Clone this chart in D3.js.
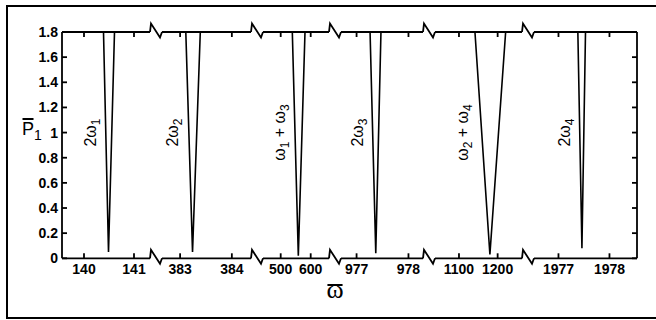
<!DOCTYPE html>
<html>
<head>
<meta charset="utf-8">
<script src="https://cdn.jsdelivr.net/npm/d3@7"></script>
<style>
  body { margin: 0; background: #fff; }
  svg { display: block; }
  .tick-label { font-family: "Liberation Sans", Arial, sans-serif; font-weight: bold; font-size: 14px; fill: #000; }
  .peak-label { font-family: "Liberation Sans", Arial, sans-serif; font-size: 16px; fill: #000; }
</style>
</head>
<body>
<div id="chart"></div>
<script>
// broken x axis: each segment has its own domain and ticks
const segDomains = [[139.56, 141.32], [382.65, 384.37], [441, 661], [976.7, 978.28], [1038, 1263], [1976.52, 1978.54]];
const segTicks = [[140, 141], [383, 384], [500, 600], [977, 978], [1100, 1200], [1977, 1978]];

const yTicks = [0, 0.2, 0.4, 0.6, 0.8, 1, 1.2, 1.4, 1.6, 1.8];

// each dip: segment, x at top-left, x at minimum, x at top-right, minimum value
const peakSeg = [0, 1, 2, 3, 4, 5];
const peakLeft = [140.39, 383.11, 538.7, 977.26, 1141.3, 1977.38];
const peakMid = [140.49, 383.24, 558.7, 977.37, 1180, 1977.46];
const peakRight = [140.61, 383.39, 581, 977.47, 1220.7, 1977.53];
const peakMin = [0.05, 0.05, 0.02, 0.04, 0.03, 0.08];

// labels: pieces of text, "sub" pieces are subscripts
const peakLabels = [
  [["2ω", ""], ["1", "sub"]],
  [["2ω", ""], ["2", "sub"]],
  [["ω", ""], ["1", "sub"], [" + ω", ""], ["3", "sub"]],
  [["2ω", ""], ["3", "sub"]],
  [["ω", ""], ["2", "sub"], [" + ω", ""], ["4", "sub"]],
  [["2ω", ""], ["4", "sub"]]
];

const width = 656, height = 320;
const plotTop = 32, plotBottom = 258.3, plotLeft = 62, plotRight = 637;
const segRanges = [[62, 150], [162, 251], [263, 329], [341, 423], [435, 522], [534, 637]];

const svg = d3.select("#chart").append("svg").attr("width", width).attr("height", height);

// outer frame
svg.append("rect")
  .attr("x", 7).attr("y", 6).attr("width", 660).attr("height", 312)
  .attr("fill", "none").attr("stroke", "#000").attr("stroke-width", 2);

const y = d3.scaleLinear().domain([0, 1.8]).range([plotBottom, plotTop]);
const xs = segDomains.map((d, i) => d3.scaleLinear().domain(d).range(segRanges[i]));

const axisG = svg.append("g").attr("stroke", "#000").attr("stroke-width", 1.8).attr("fill", "none");

// left and right axes
axisG.append("line").attr("x1", plotLeft).attr("x2", plotLeft).attr("y1", plotTop).attr("y2", plotBottom);
axisG.append("line").attr("x1", plotRight).attr("x2", plotRight).attr("y1", plotTop).attr("y2", plotBottom);

yTicks.forEach(t => {
  axisG.append("line").attr("x1", plotLeft).attr("x2", plotLeft + 5).attr("y1", y(t)).attr("y2", y(t));
  axisG.append("line").attr("x1", plotRight).attr("x2", plotRight - 5).attr("y1", y(t)).attr("y2", y(t));
  svg.append("text").attr("class", "tick-label")
    .attr("x", plotLeft - 4).attr("y", y(t)).attr("dy", "0.36em")
    .attr("text-anchor", "end")
    .text(t);
});

// top and bottom axis segments with break marks
xs.forEach((x, i) => {
  const [r0, r1] = x.range();
  [plotTop, plotBottom].forEach(yy => {
    axisG.append("line").attr("x1", r0).attr("x2", r1).attr("y1", yy).attr("y2", yy);
  });
  segTicks[i].forEach(t => {
    axisG.append("line").attr("x1", x(t)).attr("x2", x(t)).attr("y1", plotBottom).attr("y2", plotBottom - 5);
    axisG.append("line").attr("x1", x(t)).attr("x2", x(t)).attr("y1", plotTop).attr("y2", plotTop + 5);
    svg.append("text").attr("class", "tick-label")
      .attr("x", x(t)).attr("y", plotBottom + 16)
      .attr("text-anchor", "middle")
      .text(t);
  });
  if (i < xs.length - 1) {
    const e = r1, s = xs[i + 1].range()[0];
    [plotTop, plotBottom].forEach(yy => {
      axisG.append("path")
        .attr("d", `M${e},${yy} L${e + 1},${yy - 8.5} L${s - 2},${yy + 5.5} L${s},${yy}`)
        .attr("stroke-linejoin", "miter");
    });
  }
});

// dips
const line = d3.line();
peakSeg.forEach((si, i) => {
  const x = xs[si];
  svg.append("path")
    .attr("d", line([[x(peakLeft[i]), y(1.8)], [x(peakMid[i]), y(peakMin[i])], [x(peakRight[i]), y(1.8)]]))
    .attr("fill", "none").attr("stroke", "#000").attr("stroke-width", 1.6);

  const lab = svg.append("text").attr("class", "peak-label")
    .attr("transform", `translate(${x(peakLeft[i]) - 13},${y(1)}) rotate(-90)`)
    .attr("text-anchor", "middle")
    .attr("dy", "0.35em");
  peakLabels[i].forEach(([txt, kind], k) => {
    const ts = lab.append("tspan").text(txt);
    if (kind === "sub") {
      ts.attr("font-size", "12px").attr("dy", 4);
    } else if (k > 0) {
      ts.attr("dy", -4);
    }
  });
});

// y label: P bar sub 1
const yLab = svg.append("text")
  .attr("x", 22).attr("y", 135)
  .attr("font-family", "'Liberation Sans', Arial, sans-serif")
  .attr("font-size", 18);
const pSpan = yLab.append("tspan").text("P");
yLab.append("tspan").attr("font-size", 14).attr("dy", 5).text("1");
const pBox = pSpan.node().getBBox();
svg.append("line")
  .attr("x1", pBox.x + 0.5).attr("x2", pBox.x + pBox.width - 0.5)
  .attr("y1", 119).attr("y2", 119)
  .attr("stroke", "#000").attr("stroke-width", 2);

// x label: omega bar
const xLab = svg.append("text")
  .attr("x", 335).attr("y", 298)
  .attr("text-anchor", "middle")
  .attr("font-family", "'Liberation Serif', 'Times New Roman', serif")
  .attr("font-size", 26)
  .text("ω");
const wBox = xLab.node().getBBox();
svg.append("line")
  .attr("x1", wBox.x + 1).attr("x2", wBox.x + wBox.width - 1)
  .attr("y1", 285).attr("y2", 285)
  .attr("stroke", "#000").attr("stroke-width", 2);
</script>
</body>
</html>
